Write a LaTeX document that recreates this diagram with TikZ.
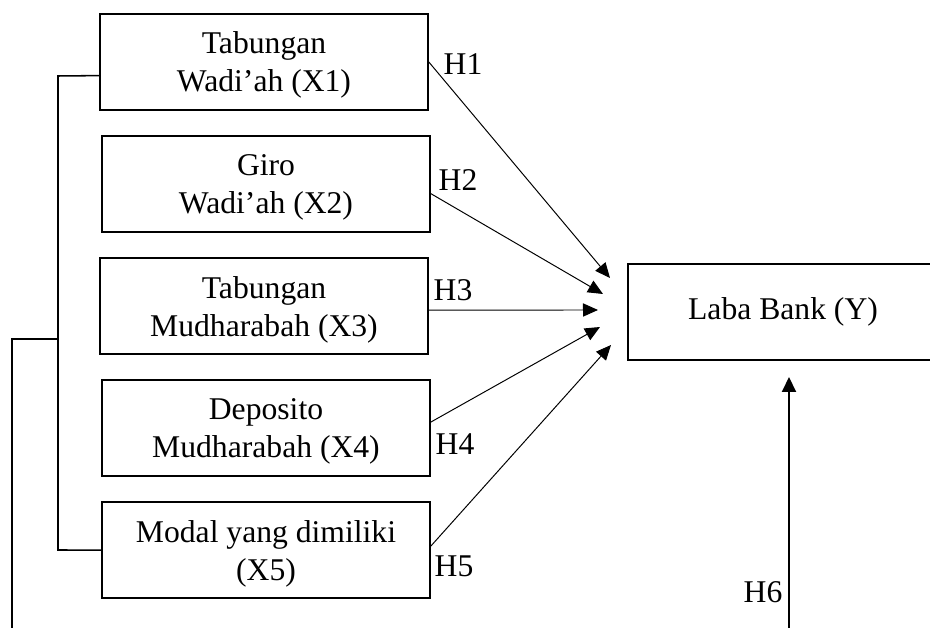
\documentclass[tikz,border=0pt]{standalone}
\usepackage{fontspec}
\setmainfont{Liberation Serif}
\usetikzlibrary{arrows.meta}

\begin{document}
\begin{tikzpicture}[x=0.025cm,y=-0.025cm,node distance=3.05cm,
            var node/.style={draw,line width=1.1pt,minimum width=8.2cm,minimum height=2.4cm,
                align=center,inner sep=0pt,font=\fontsize{22.5}{27}\selectfont},
            hyp/.style={font=\fontsize{22.5}{26.5}\selectfont,inner sep=0pt},
            path/.style={line width=0.7pt,-{Triangle[length=0.375cm,width=0.33cm]}}]

        \useasboundingbox (0,0) rectangle (930,628);

        % Define vertices
        \node[var node,text depth=0pt] (x1) at (264,62) {Tabungan\\Wadi'ah (X1)};
        \node[var node,text depth=0pt] (x2) [below of=x1,xshift=0.05cm] {Giro\\Wadi'ah (X2)};
        \node[var node,text depth=0pt] (x3) [below of=x2,xshift=-0.05cm] {Tabungan\\Mudharabah (X3)};
        \node[var node,text depth=0pt] (x4) [below of=x3,xshift=0.05cm] {Deposito\\Mudharabah (X4)};
        \node[var node,text depth=0pt] (x5) [below of=x4] {Modal yang dimiliki\\(X5)};
        \node[var node,minimum width=7.75cm] (y) at (783,312) {Laba Bank (Y)};

        % arrow tips in front of Y
        \coordinate (t1) at (610,278);
        \coordinate (t2) at (603,294);
        \coordinate (t3) at (598,310);
        \coordinate (t4) at (600,327);
        \coordinate (t5) at (611,345);
        \coordinate (h6a) at (789,640);
        \coordinate (h6b) at (789,377);

        % bracket on the left
        \coordinate (b1) at (58,76);
        \coordinate (b5) at (58,550);
        \coordinate (bm) at (58,339);
        \coordinate (bo) at (12,339);
        \coordinate (bb) at (12,640);

        % Draw edges
        \draw[path] (x1.east) -- (t1);
        \draw[path] ([yshift=-0.24cm]x2.east) -- (t2);
        \draw[path] ([yshift=-0.1cm]x3.east) -- (t3);
        \draw[path] ([yshift=0.15cm]x4.east) -- (t4);
        \draw[path] ([yshift=0.1cm]x5.east) -- (t5);
        \draw[line width=1.4pt,-{Triangle[length=0.375cm,width=0.35cm]}] (h6a) -- (h6b);

        \draw[line width=1.1pt] ([yshift=-0.34cm]x1.west) -- (b1) -- (b5) -- (x5.west);
        \draw[line width=1.1pt] (bm) -- (bo) -- (bb);

        % labels
        \node[hyp] (lh1) at (463,64) {H1};
        \node[hyp] (lh2) at (458,180) {H2};
        \node[hyp] (lh3) at (453,290) {H3};
        \node[hyp] (lh4) at (455,444) {H4};
        \node[hyp] (lh5) at (454,566) {H5};
        \node[hyp] (lh6) at (763,592) {H6};

\end{tikzpicture}
\end{document}
